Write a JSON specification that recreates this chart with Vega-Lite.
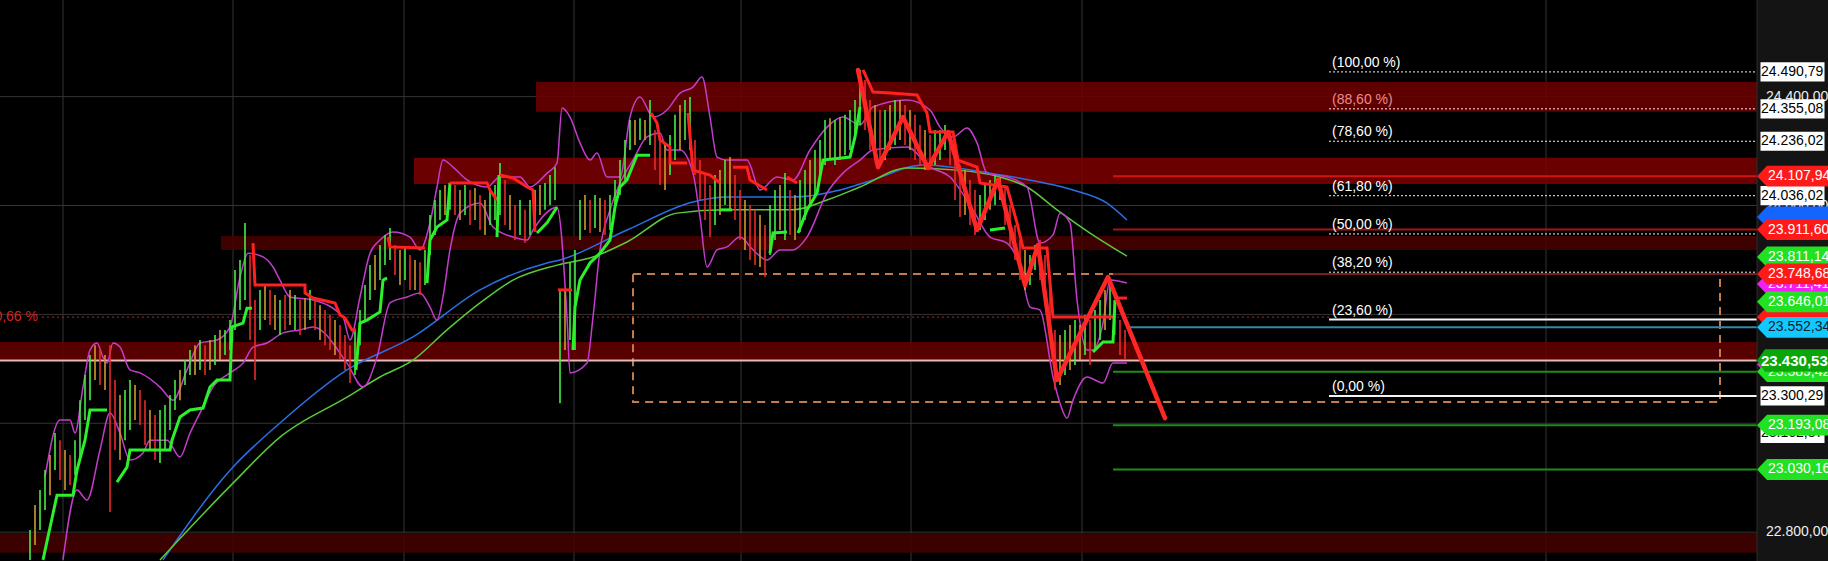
{
"$schema":"https://vega.github.io/schema/vega-lite/v6.json",
"width":1757,"height":561,
"autosize":{"type":"none"},
"padding":{"left":0,"top":0,"right":71,"bottom":0},
"background":"#141414",
"config":{"view":{"fill":"#000000","stroke":null},"font":"Liberation Sans","locale":{"number":{"decimal":",","thousands":".","grouping":[3],"currency":["","€"]}}},
"resolve":{"scale":{"color":"independent"}},
"datasets":{
"gridH":[{"p":22800},{"p":23200},{"p":23600},{"p":24000},{"p":24400}],
"gridV":[{"t":12.6},{"t":46.6},{"t":80.8},{"t":114.8},{"t":148.2},{"t":182.2},{"t":216.4},{"t":309.2}],
"bands":[{"t0":107.2,"t1":351.4,"p0":24454,"p1":24344,"k":"b1"},{"t0":82.8,"t1":351.4,"p0":24175,"p1":24079,"k":"b2"},{"t0":44.2,"t1":351.4,"p0":23888,"p1":23837,"k":"b3"},{"t0":0,"t1":351.4,"p0":23499,"p1":23433,"k":"b4"},{"t0":0,"t1":351.4,"p0":22797,"p1":22724,"k":"b5"}],
"box":[{"t0":126.6,"t1":344,"p0":23748.68,"p1":23278}],
"hl":[{"p":24107.94,"t0":222.6,"t1":351.4,"k":"red"},{"p":23911.6,"t0":222.6,"t1":351.4,"k":"red2"},{"p":23748.68,"t0":222.6,"t1":351.4,"k":"dred"},{"p":23552.34,"t0":225.6,"t1":351.4,"k":"cyan"},{"p":23430.53,"t0":0,"t1":351.4,"k":"pink"},{"p":23389.42,"t0":222.6,"t1":351.4,"k":"green"},{"p":23193.08,"t0":222.6,"t1":351.4,"k":"green"},{"p":23030.16,"t0":222.6,"t1":351.4,"k":"green"},{"p":23581.21,"t0":265.8,"t1":351.4,"k":"white"},{"p":23300.29,"t0":265.8,"t1":351.4,"k":"white"}],
"fibd":[{"p":24490.79},{"p":24355.08},{"p":24236.02},{"p":24036.02},{"p":23895.54},{"p":23755.0}],
"fibl":[{"p":24490.79,"lab":"(100,00 %)","k":"w"},{"p":24355.08,"lab":"(88,60 %)","k":"p"},{"p":24236.02,"lab":"(78,60 %)","k":"w"},{"p":24036.02,"lab":"(61,80 %)","k":"w"},{"p":23895.54,"lab":"(50,00 %)","k":"w"},{"p":23755.0,"lab":"(38,20 %)","k":"w"},{"p":23581.21,"lab":"(23,60 %)","k":"w"},{"p":23300.29,"lab":"(0,00 %)","k":"w"}],
"rdot":[{"p":23590,"t0":8.4,"t1":265.8}],
"ma":[{"m":"b","t":32.6,"p":22698},{"m":"b","t":46.6,"p":23039},{"m":"b","t":56,"p":23201},{"m":"b","t":69.4,"p":23396},{"m":"b","t":82.6,"p":23517},{"m":"b","t":96,"p":23690},{"m":"b","t":109.4,"p":23789},{"m":"b","t":112,"p":23800},{"m":"b","t":125.4,"p":23910},{"m":"b","t":138.6,"p":24013},{"m":"b","t":145.4,"p":24031},{"m":"b","t":158.6,"p":24031},{"m":"b","t":168,"p":24057},{"m":"b","t":174.6,"p":24094},{"m":"b","t":184.6,"p":24149},{"m":"b","t":198,"p":24119},{"m":"b","t":208,"p":24086},{"m":"b","t":214.6,"p":24057},{"m":"b","t":221.4,"p":24009},{"m":"b","t":225.4,"p":23947},
{"m":"g","t":32,"p":22698},{"m":"g","t":46.6,"p":22980},{"m":"g","t":56,"p":23149},{"m":"g","t":69.4,"p":23296},{"m":"g","t":76,"p":23370},{"m":"g","t":82.6,"p":23432},{"m":"g","t":89.4,"p":23543},{"m":"g","t":96,"p":23642},{"m":"g","t":102.6,"p":23726},{"m":"g","t":111.4,"p":23781},{"m":"g","t":118.6,"p":23811},{"m":"g","t":125.4,"p":23866},{"m":"g","t":135.4,"p":23972},{"m":"g","t":145.4,"p":23984},{"m":"g","t":158.6,"p":23984},{"m":"g","t":165.4,"p":24020},{"m":"g","t":172,"p":24068},{"m":"g","t":181.4,"p":24138},{"m":"g","t":191.4,"p":24130},{"m":"g","t":200,"p":24105},{"m":"g","t":205.4,"p":24068},{"m":"g","t":211.4,"p":23984},{"m":"g","t":218,"p":23899},{"m":"g","t":225.4,"p":23814}],
"bb":[{"b":"u","t":9,"p":23003},{"b":"u","t":12,"p":23212},{"b":"u","t":14,"p":23212},{"b":"u","t":15,"p":23164},{"b":"u","t":16.6,"p":23333},{"b":"u","t":18,"p":23469},{"b":"u","t":19.4,"p":23495},{"b":"u","t":20.6,"p":23443},{"b":"u","t":21.4,"p":23421},{"b":"u","t":22.6,"p":23495},{"b":"u","t":24,"p":23480},{"b":"u","t":26,"p":23396},{"b":"u","t":28,"p":23385},{"b":"u","t":32,"p":23333},{"b":"u","t":34.6,"p":23285},{"b":"u","t":37.4,"p":23396},{"b":"u","t":40,"p":23495},{"b":"u","t":43.4,"p":23506},{"b":"u","t":46,"p":23554},{"b":"u","t":48,"p":23737},{"b":"u","t":49.6,"p":23825},{"b":"u","t":52.6,"p":23811},{"b":"u","t":54.6,"p":23774},{"b":"u","t":56,"p":23726},{"b":"u","t":58,"p":23664},{"b":"u","t":62.6,"p":23653},{"b":"u","t":68.6,"p":23590},{"b":"u","t":70,"p":23506},{"b":"u","t":72,"p":23664},{"b":"u","t":74,"p":23825},{"b":"u","t":76,"p":23873},{"b":"u","t":78.6,"p":23903},{"b":"u","t":82,"p":23884},{"b":"u","t":84,"p":23837},{"b":"u","t":86,"p":23936},{"b":"u","t":87.4,"p":24068},{"b":"u","t":88.6,"p":24167},{"b":"u","t":90.6,"p":24141},{"b":"u","t":93.4,"p":24094},{"b":"u","t":97.4,"p":24068},{"b":"u","t":100,"p":24105},{"b":"u","t":104,"p":24105},{"b":"u","t":106,"p":24068},{"b":"u","t":109.4,"p":24119},{"b":"u","t":111.4,"p":24156},{"b":"u","t":112.4,"p":24358},{"b":"u","t":114,"p":24325},{"b":"u","t":116,"p":24230},{"b":"u","t":118,"p":24167},{"b":"u","t":119.4,"p":24193},{"b":"u","t":121.4,"p":24105},{"b":"u","t":124,"p":24105},{"b":"u","t":126,"p":24325},{"b":"u","t":128,"p":24399},{"b":"u","t":130.6,"p":24325},{"b":"u","t":133.4,"p":24351},{"b":"u","t":136,"p":24413},{"b":"u","t":138.6,"p":24435},{"b":"u","t":140.4,"p":24472},{"b":"u","t":142,"p":24325},{"b":"u","t":143.4,"p":24178},{"b":"u","t":145.4,"p":24167},{"b":"u","t":149.4,"p":24167},{"b":"u","t":152,"p":24057},{"b":"u","t":155.4,"p":24105},{"b":"u","t":158.6,"p":24094},{"b":"u","t":162,"p":24204},{"b":"u","t":165.4,"p":24288},{"b":"u","t":168.6,"p":24325},{"b":"u","t":172,"p":24296},{"b":"u","t":174.6,"p":24362},{"b":"u","t":181.4,"p":24388},{"b":"u","t":186,"p":24351},{"b":"u","t":188,"p":24288},{"b":"u","t":190.6,"p":24252},{"b":"u","t":193.4,"p":24285},{"b":"u","t":195.4,"p":24230},{"b":"u","t":197.4,"p":24119},{"b":"u","t":201.4,"p":24105},{"b":"u","t":205.4,"p":24068},{"b":"u","t":208,"p":23862},{"b":"u","t":210.6,"p":23892},{"b":"u","t":212,"p":23972},{"b":"u","t":214,"p":23936},{"b":"u","t":215.4,"p":23653},{"b":"u","t":217.4,"p":23469},{"b":"u","t":218.6,"p":23469},{"b":"u","t":220.6,"p":23568},{"b":"u","t":222,"p":23726},{"b":"u","t":225.4,"p":23715},
{"b":"l","t":12.6,"p":22698},{"b":"l","t":15.4,"p":22955},{"b":"l","t":17.4,"p":22918},{"b":"l","t":20,"p":23102},{"b":"l","t":22,"p":23238},{"b":"l","t":24,"p":23164},{"b":"l","t":26,"p":23065},{"b":"l","t":28.6,"p":23091},{"b":"l","t":30,"p":23138},{"b":"l","t":33.4,"p":23138},{"b":"l","t":36,"p":23076},{"b":"l","t":38,"p":23164},{"b":"l","t":40,"p":23238},{"b":"l","t":42.6,"p":23333},{"b":"l","t":46,"p":23385},{"b":"l","t":48.6,"p":23421},{"b":"l","t":50.6,"p":23480},{"b":"l","t":53.4,"p":23495},{"b":"l","t":56.6,"p":23532},{"b":"l","t":60,"p":23543},{"b":"l","t":62.6,"p":23554},{"b":"l","t":69.4,"p":23421},{"b":"l","t":72.6,"p":23333},{"b":"l","t":75.4,"p":23443},{"b":"l","t":78,"p":23642},{"b":"l","t":81.4,"p":23664},{"b":"l","t":84,"p":23679},{"b":"l","t":86,"p":23627},{"b":"l","t":87.4,"p":23579},{"b":"l","t":88.6,"p":23664},{"b":"l","t":90,"p":23837},{"b":"l","t":92,"p":23972},{"b":"l","t":96,"p":24009},{"b":"l","t":98.6,"p":23921},{"b":"l","t":102.6,"p":23884},{"b":"l","t":105.4,"p":23873},{"b":"l","t":106.6,"p":23910},{"b":"l","t":111.4,"p":23994},{"b":"l","t":113.4,"p":23590},{"b":"l","t":114,"p":23385},{"b":"l","t":117.4,"p":23421},{"b":"l","t":118.6,"p":23590},{"b":"l","t":120,"p":23837},{"b":"l","t":122,"p":23984},{"b":"l","t":124,"p":24083},{"b":"l","t":126.6,"p":24167},{"b":"l","t":129.4,"p":24252},{"b":"l","t":132,"p":24266},{"b":"l","t":133.4,"p":24204},{"b":"l","t":136,"p":24204},{"b":"l","t":138.6,"p":24119},{"b":"l","t":140,"p":23958},{"b":"l","t":141.4,"p":23774},{"b":"l","t":143.4,"p":23837},{"b":"l","t":145.4,"p":23848},{"b":"l","t":148,"p":23884},{"b":"l","t":150.6,"p":23837},{"b":"l","t":153.4,"p":23800},{"b":"l","t":156,"p":23837},{"b":"l","t":158.6,"p":23837},{"b":"l","t":161.4,"p":23884},{"b":"l","t":165.4,"p":24046},{"b":"l","t":168.6,"p":24119},{"b":"l","t":172,"p":24167},{"b":"l","t":174.6,"p":24204},{"b":"l","t":181.4,"p":24215},{"b":"l","t":186,"p":24141},{"b":"l","t":190,"p":24105},{"b":"l","t":194.6,"p":23984},{"b":"l","t":198,"p":23884},{"b":"l","t":201.4,"p":23862},{"b":"l","t":204,"p":23774},{"b":"l","t":206,"p":23627},{"b":"l","t":208,"p":23616},{"b":"l","t":210.6,"p":23370},{"b":"l","t":212,"p":23274},{"b":"l","t":213.4,"p":23219},{"b":"l","t":214.6,"p":23285},{"b":"l","t":217.4,"p":23370},{"b":"l","t":220.6,"p":23348},{"b":"l","t":222.6,"p":23421},{"b":"l","t":225.4,"p":23421}],
"cd":[{"t":6,"l":22698,"h":22808,"c":"g"},{"t":7,"l":22753,"h":22900,"c":"o"},{"t":8,"l":22808,"h":22955,"c":"g"},{"t":9,"l":22881,"h":23028,"c":"g"},{"t":10,"l":22936,"h":23083,"c":"o"},{"t":11,"l":23028,"h":23164,"c":"g"},{"t":12,"l":22992,"h":23138,"c":"r"},{"t":13,"l":22955,"h":23102,"c":"o"},{"t":14,"l":22973,"h":23083,"c":"r"},{"t":15,"l":23010,"h":23138,"c":"g"},{"t":16,"l":23065,"h":23285,"c":"g"},{"t":17,"l":23212,"h":23377,"c":"g"},{"t":18,"l":23285,"h":23451,"c":"g"},{"t":19,"l":23359,"h":23487,"c":"o"},{"t":20,"l":23341,"h":23469,"c":"r"},{"t":21,"l":23322,"h":23451,"c":"o"},{"t":22,"l":22874,"h":23487,"c":"r"},{"t":23,"l":23102,"h":23359,"c":"r"},{"t":24,"l":23065,"h":23304,"c":"o"},{"t":25,"l":23138,"h":23322,"c":"g"},{"t":26,"l":23175,"h":23359,"c":"g"},{"t":27,"l":23212,"h":23341,"c":"o"},{"t":28,"l":23194,"h":23322,"c":"r"},{"t":29,"l":23120,"h":23285,"c":"r"},{"t":30,"l":23102,"h":23249,"c":"o"},{"t":31,"l":23065,"h":23230,"c":"r"},{"t":32,"l":23054,"h":23249,"c":"g"},{"t":33,"l":23102,"h":23267,"c":"g"},{"t":34,"l":23175,"h":23304,"c":"g"},{"t":35,"l":23249,"h":23359,"c":"g"},{"t":36,"l":23285,"h":23396,"c":"o"},{"t":37,"l":23341,"h":23432,"c":"g"},{"t":38,"l":23377,"h":23469,"c":"g"},{"t":39,"l":23377,"h":23487,"c":"o"},{"t":40,"l":23396,"h":23506,"c":"g"},{"t":41,"l":23377,"h":23487,"c":"r"},{"t":42,"l":23396,"h":23506,"c":"o"},{"t":43,"l":23414,"h":23524,"c":"g"},{"t":44,"l":23432,"h":23543,"c":"o"},{"t":45,"l":23451,"h":23543,"c":"g"},{"t":46,"l":23469,"h":23579,"c":"g"},{"t":47,"l":23543,"h":23763,"c":"g"},{"t":48,"l":23616,"h":23800,"c":"g"},{"t":49,"l":23653,"h":23936,"c":"g"},{"t":50,"l":23506,"h":23818,"c":"r"},{"t":51,"l":23359,"h":23653,"c":"r"},{"t":52,"l":23543,"h":23690,"c":"g"},{"t":53,"l":23579,"h":23708,"c":"o"},{"t":54,"l":23561,"h":23690,"c":"r"},{"t":55,"l":23543,"h":23671,"c":"o"},{"t":56,"l":23524,"h":23653,"c":"g"},{"t":57,"l":23543,"h":23671,"c":"r"},{"t":58,"l":23561,"h":23690,"c":"o"},{"t":59,"l":23543,"h":23671,"c":"g"},{"t":60,"l":23524,"h":23653,"c":"r"},{"t":61,"l":23543,"h":23660,"c":"o"},{"t":62,"l":23579,"h":23690,"c":"g"},{"t":63,"l":23543,"h":23653,"c":"r"},{"t":64,"l":23506,"h":23634,"c":"o"},{"t":65,"l":23487,"h":23616,"c":"r"},{"t":66,"l":23469,"h":23598,"c":"r"},{"t":67,"l":23451,"h":23579,"c":"o"},{"t":68,"l":23432,"h":23561,"c":"r"},{"t":69,"l":23396,"h":23524,"c":"r"},{"t":70,"l":23348,"h":23487,"c":"r"},{"t":71,"l":23377,"h":23543,"c":"g"},{"t":72,"l":23487,"h":23616,"c":"g"},{"t":73,"l":23579,"h":23708,"c":"g"},{"t":74,"l":23653,"h":23781,"c":"g"},{"t":75,"l":23690,"h":23818,"c":"o"},{"t":76,"l":23726,"h":23855,"c":"g"},{"t":77,"l":23781,"h":23892,"c":"g"},{"t":78,"l":23800,"h":23917,"c":"g"},{"t":79,"l":23745,"h":23855,"c":"r"},{"t":80,"l":23708,"h":23837,"c":"o"},{"t":81,"l":23726,"h":23844,"c":"g"},{"t":82,"l":23690,"h":23818,"c":"r"},{"t":83,"l":23690,"h":23800,"c":"o"},{"t":84,"l":23671,"h":23792,"c":"r"},{"t":85,"l":23708,"h":23837,"c":"g"},{"t":86,"l":23818,"h":23965,"c":"g"},{"t":87,"l":23892,"h":24020,"c":"g"},{"t":88,"l":23947,"h":24057,"c":"g"},{"t":89,"l":23965,"h":24075,"c":"o"},{"t":90,"l":23984,"h":24083,"c":"g"},{"t":91,"l":23965,"h":24075,"c":"r"},{"t":92,"l":23947,"h":24057,"c":"o"},{"t":93,"l":23965,"h":24075,"c":"g"},{"t":94,"l":23928,"h":24057,"c":"r"},{"t":95,"l":23947,"h":24064,"c":"o"},{"t":96,"l":23910,"h":24039,"c":"r"},{"t":97,"l":23892,"h":24020,"c":"o"},{"t":98,"l":23928,"h":24057,"c":"g"},{"t":99,"l":23947,"h":24075,"c":"g"},{"t":100,"l":23965,"h":24156,"c":"g"},{"t":101,"l":23928,"h":24094,"c":"r"},{"t":102,"l":23910,"h":24039,"c":"o"},{"t":103,"l":23873,"h":24002,"c":"r"},{"t":104,"l":23892,"h":24020,"c":"g"},{"t":105,"l":23862,"h":23984,"c":"r"},{"t":106,"l":23892,"h":24020,"c":"g"},{"t":107,"l":23928,"h":24057,"c":"g"},{"t":108,"l":23965,"h":24075,"c":"o"},{"t":109,"l":23984,"h":24083,"c":"g"},{"t":110,"l":24002,"h":24112,"c":"g"},{"t":111,"l":24020,"h":24141,"c":"g"},{"t":112,"l":23274,"h":23690,"c":"g"},{"t":113,"l":23469,"h":23690,"c":"o"},{"t":114,"l":23506,"h":23789,"c":"g"},{"t":115,"l":23469,"h":23837,"c":"g"},{"t":116,"l":23873,"h":24020,"c":"g"},{"t":117,"l":23910,"h":24039,"c":"o"},{"t":118,"l":23899,"h":24020,"c":"r"},{"t":119,"l":23917,"h":24039,"c":"g"},{"t":120,"l":23903,"h":24028,"c":"o"},{"t":121,"l":23892,"h":24020,"c":"r"},{"t":122,"l":23910,"h":24039,"c":"g"},{"t":123,"l":23984,"h":24094,"c":"g"},{"t":124,"l":24039,"h":24167,"c":"g"},{"t":125,"l":24094,"h":24241,"c":"g"},{"t":126,"l":24204,"h":24314,"c":"g"},{"t":127,"l":24222,"h":24314,"c":"o"},{"t":128,"l":24241,"h":24321,"c":"g"},{"t":129,"l":24241,"h":24314,"c":"o"},{"t":130,"l":24222,"h":24388,"c":"g"},{"t":131,"l":24130,"h":24277,"c":"r"},{"t":132,"l":24075,"h":24241,"c":"r"},{"t":133,"l":24057,"h":24222,"c":"o"},{"t":134,"l":24112,"h":24259,"c":"g"},{"t":135,"l":24167,"h":24333,"c":"g"},{"t":136,"l":24204,"h":24369,"c":"o"},{"t":137,"l":24241,"h":24388,"c":"g"},{"t":138,"l":24204,"h":24399,"c":"g"},{"t":139,"l":24112,"h":24241,"c":"r"},{"t":140,"l":24020,"h":24167,"c":"r"},{"t":141,"l":23947,"h":24112,"c":"r"},{"t":142,"l":23884,"h":24075,"c":"r"},{"t":143,"l":23928,"h":24112,"c":"g"},{"t":144,"l":23965,"h":24130,"c":"o"},{"t":145,"l":24002,"h":24167,"c":"g"},{"t":146,"l":23984,"h":24178,"c":"o"},{"t":147,"l":23947,"h":24112,"c":"r"},{"t":148,"l":23873,"h":24057,"c":"r"},{"t":149,"l":23837,"h":24020,"c":"o"},{"t":150,"l":23800,"h":24002,"c":"r"},{"t":151,"l":23781,"h":23984,"c":"r"},{"t":152,"l":23774,"h":23965,"c":"o"},{"t":153,"l":23737,"h":23928,"c":"r"},{"t":154,"l":23818,"h":24002,"c":"g"},{"t":155,"l":23873,"h":24057,"c":"g"},{"t":156,"l":23910,"h":24075,"c":"o"},{"t":157,"l":23873,"h":24119,"c":"g"},{"t":158,"l":23892,"h":24057,"c":"r"},{"t":159,"l":23873,"h":24039,"c":"o"},{"t":160,"l":23903,"h":24094,"c":"g"},{"t":161,"l":23947,"h":24130,"c":"g"},{"t":162,"l":24002,"h":24167,"c":"o"},{"t":163,"l":24039,"h":24204,"c":"g"},{"t":164,"l":24094,"h":24241,"c":"g"},{"t":165,"l":24149,"h":24314,"c":"g"},{"t":166,"l":24167,"h":24321,"c":"o"},{"t":167,"l":24149,"h":24314,"c":"g"},{"t":168,"l":24167,"h":24325,"c":"o"},{"t":169,"l":24186,"h":24333,"c":"g"},{"t":170,"l":24204,"h":24351,"c":"g"},{"t":171,"l":24241,"h":24388,"c":"g"},{"t":172,"l":24296,"h":24498,"c":"g"},{"t":173,"l":24277,"h":24461,"c":"r"},{"t":174,"l":24204,"h":24388,"c":"r"},{"t":175,"l":24167,"h":24369,"c":"o"},{"t":176,"l":24149,"h":24351,"c":"r"},{"t":177,"l":24167,"h":24351,"c":"g"},{"t":178,"l":24204,"h":24369,"c":"o"},{"t":179,"l":24222,"h":24388,"c":"g"},{"t":180,"l":24241,"h":24388,"c":"o"},{"t":181,"l":24222,"h":24369,"c":"r"},{"t":182,"l":24204,"h":24351,"c":"o"},{"t":183,"l":24167,"h":24333,"c":"r"},{"t":184,"l":24149,"h":24296,"c":"r"},{"t":185,"l":24130,"h":24277,"c":"o"},{"t":186,"l":24130,"h":24259,"c":"r"},{"t":187,"l":24149,"h":24277,"c":"g"},{"t":188,"l":24167,"h":24277,"c":"g"},{"t":189,"l":24204,"h":24296,"c":"g"},{"t":190,"l":24149,"h":24259,"c":"r"},{"t":191,"l":24020,"h":24204,"c":"r"},{"t":192,"l":23958,"h":24149,"c":"r"},{"t":193,"l":23965,"h":24130,"c":"o"},{"t":194,"l":23928,"h":24094,"c":"r"},{"t":195,"l":23892,"h":24057,"c":"r"},{"t":196,"l":23910,"h":24039,"c":"g"},{"t":197,"l":23947,"h":24075,"c":"g"},{"t":198,"l":23984,"h":24094,"c":"o"},{"t":199,"l":24002,"h":24112,"c":"g"},{"t":200,"l":24020,"h":24101,"c":"o"},{"t":201,"l":23928,"h":24075,"c":"r"},{"t":202,"l":23855,"h":24002,"c":"r"},{"t":203,"l":23800,"h":23928,"c":"r"},{"t":204,"l":23726,"h":23873,"c":"r"},{"t":205,"l":23690,"h":23837,"c":"o"},{"t":206,"l":23708,"h":23818,"c":"g"},{"t":207,"l":23763,"h":23855,"c":"g"},{"t":208,"l":23726,"h":23873,"c":"r"},{"t":209,"l":23653,"h":23818,"c":"r"},{"t":210,"l":23506,"h":23726,"c":"r"},{"t":211,"l":23322,"h":23543,"c":"r"},{"t":212,"l":23341,"h":23524,"c":"o"},{"t":213,"l":23377,"h":23543,"c":"g"},{"t":214,"l":23396,"h":23561,"c":"o"},{"t":215,"l":23414,"h":23579,"c":"g"},{"t":216,"l":23432,"h":23561,"c":"o"},{"t":217,"l":23451,"h":23598,"c":"g"},{"t":218,"l":23414,"h":23579,"c":"r"},{"t":219,"l":23469,"h":23616,"c":"g"},{"t":220,"l":23506,"h":23653,"c":"g"},{"t":221,"l":23543,"h":23690,"c":"o"},{"t":222,"l":23579,"h":23708,"c":"g"},{"t":223,"l":23524,"h":23653,"c":"r"},{"t":224,"l":23451,"h":23579,"c":"r"},{"t":225,"l":23432,"h":23543,"c":"r"}],
"st":[{"s":"A","c":"g","t":8.6,"p":22698},{"s":"A","c":"g","t":11.4,"p":22936},{"s":"A","c":"g","t":14.6,"p":22936},{"s":"A","c":"g","t":15.4,"p":23028},{"s":"A","c":"g","t":17,"p":23138},{"s":"A","c":"g","t":18,"p":23249},{"s":"A","c":"g","t":21.4,"p":23249},
{"s":"C","c":"g","t":23.4,"p":22984},{"s":"C","c":"g","t":25.4,"p":23039},{"s":"C","c":"g","t":26,"p":23102},{"s":"C","c":"g","t":34,"p":23102},{"s":"C","c":"g","t":34.4,"p":23138},{"s":"C","c":"g","t":36,"p":23223},{"s":"C","c":"g","t":38,"p":23249},{"s":"C","c":"g","t":40.6,"p":23256},{"s":"C","c":"g","t":42,"p":23333},{"s":"C","c":"g","t":43.4,"p":23359},{"s":"C","c":"g","t":46,"p":23359},{"s":"C","c":"g","t":46.4,"p":23554},{"s":"C","c":"g","t":48.6,"p":23568},{"s":"C","c":"g","t":49.4,"p":23623},{"s":"C","c":"g","t":50.4,"p":23623},
{"s":"D","c":"r","t":50.6,"p":23862},{"s":"D","c":"r","t":51,"p":23708},{"s":"D","c":"r","t":61,"p":23708},{"s":"D","c":"r","t":61.01,"p":23679},{"s":"D","c":"r","t":62.6,"p":23660},{"s":"D","c":"r","t":67,"p":23642},{"s":"D","c":"r","t":68,"p":23598},{"s":"D","c":"r","t":69,"p":23587},{"s":"D","c":"r","t":70.4,"p":23543},{"s":"D","c":"r","t":71.2,"p":23543},
{"s":"E","c":"g","t":71.2,"p":23396},{"s":"E","c":"g","t":72,"p":23568},{"s":"E","c":"g","t":73.4,"p":23579},{"s":"E","c":"g","t":76,"p":23609},{"s":"E","c":"g","t":76.6,"p":23726},{"s":"E","c":"g","t":77.4,"p":23734},
{"s":"F","c":"r","t":77.6,"p":23884},{"s":"F","c":"r","t":78,"p":23848},{"s":"F","c":"r","t":85,"p":23844},
{"s":"G","c":"g","t":85.4,"p":23715},{"s":"G","c":"g","t":86,"p":23873},{"s":"G","c":"g","t":87.4,"p":23921},{"s":"G","c":"g","t":89.4,"p":23947},{"s":"G","c":"g","t":90,"p":24083},
{"s":"H","c":"r","t":90,"p":24083},{"s":"H","c":"r","t":97.4,"p":24083},{"s":"H","c":"r","t":98,"p":24057},{"s":"H","c":"r","t":99.4,"p":24020},
{"s":"I","c":"g","t":99.4,"p":23884},{"s":"I","c":"g","t":99.8,"p":24112},
{"s":"J","c":"r","t":100,"p":24112},{"s":"J","c":"r","t":102.6,"p":24101},{"s":"J","c":"r","t":105.4,"p":24068},{"s":"J","c":"r","t":106.6,"p":24057},{"s":"J","c":"r","t":107,"p":23903},
{"s":"K","c":"g","t":107.4,"p":23899},{"s":"K","c":"g","t":109.4,"p":23936},{"s":"K","c":"g","t":111.4,"p":23994},
{"s":"L","c":"r","t":111.6,"p":23690},{"s":"L","c":"r","t":114.4,"p":23690},
{"s":"M","c":"g","t":114.6,"p":23469},{"s":"M","c":"g","t":115,"p":23627},{"s":"M","c":"g","t":116,"p":23726},{"s":"M","c":"g","t":118,"p":23789},{"s":"M","c":"g","t":120,"p":23825},{"s":"M","c":"g","t":122,"p":23873},{"s":"M","c":"g","t":123,"p":23994},{"s":"M","c":"g","t":124,"p":24068},{"s":"M","c":"g","t":125.4,"p":24094},{"s":"M","c":"g","t":127.4,"p":24185},{"s":"M","c":"g","t":130,"p":24185},
{"s":"N","c":"r","t":130.2,"p":24340},{"s":"N","c":"r","t":131.4,"p":24303},{"s":"N","c":"r","t":132,"p":24241},{"s":"N","c":"r","t":134,"p":24215},{"s":"N","c":"r","t":134.01,"p":24156},{"s":"N","c":"r","t":137.4,"p":24156},
{"s":"P","c":"r","t":137.6,"p":24340},{"s":"P","c":"r","t":138.6,"p":24130},{"s":"P","c":"r","t":142,"p":24112},{"s":"P","c":"r","t":144,"p":24083},
{"s":"Q","c":"g","t":144,"p":23984},{"s":"Q","c":"g","t":146.4,"p":23984},
{"s":"R","c":"r","t":146.6,"p":24141},{"s":"R","c":"r","t":149.4,"p":24141},{"s":"R","c":"r","t":150,"p":24094},{"s":"R","c":"r","t":153.4,"p":24057},
{"s":"S","c":"g","t":154,"p":23825},{"s":"S","c":"g","t":154.6,"p":23899},{"s":"S","c":"g","t":157.4,"p":23903},
{"s":"T","c":"r","t":157.4,"p":24105},{"s":"T","c":"r","t":159.4,"p":24083},
{"s":"U","c":"g","t":159.6,"p":23899},{"s":"U","c":"g","t":161.4,"p":23984},{"s":"U","c":"g","t":163.4,"p":24046},{"s":"U","c":"g","t":164.6,"p":24167},{"s":"U","c":"g","t":170,"p":24178},{"s":"U","c":"g","t":171,"p":24252},{"s":"U","c":"g","t":172,"p":24362},
{"s":"V","c":"r","t":172.6,"p":24498},{"s":"V","c":"r","t":174.6,"p":24417},{"s":"V","c":"r","t":178,"p":24413},{"s":"V","c":"r","t":183.4,"p":24406},{"s":"V","c":"r","t":185.4,"p":24340},{"s":"V","c":"r","t":186,"p":24270},{"s":"V","c":"r","t":190.6,"p":24270},{"s":"V","c":"r","t":191.6,"p":24167},{"s":"V","c":"r","t":195.4,"p":24141},{"s":"V","c":"r","t":196,"p":24083},{"s":"V","c":"r","t":201.4,"p":24068},{"s":"V","c":"r","t":203.4,"p":23936},{"s":"V","c":"r","t":204.6,"p":23844},{"s":"V","c":"r","t":209.4,"p":23844},{"s":"V","c":"r","t":210.6,"p":23590},{"s":"V","c":"r","t":222.6,"p":23590},
{"s":"W","c":"g","t":198,"p":23910},{"s":"W","c":"g","t":201,"p":23917},
{"s":"X","c":"g","t":218.6,"p":23462},{"s":"X","c":"g","t":220.6,"p":23499},{"s":"X","c":"g","t":222.6,"p":23499},{"s":"X","c":"g","t":223,"p":23653},
{"s":"Y","c":"r","t":223,"p":23660},{"s":"Y","c":"r","t":225.4,"p":23660}],
"zig":[{"t":171.6,"p":24498},{"t":175.6,"p":24141},{"t":180.6,"p":24325},{"t":185.6,"p":24138},{"t":189.6,"p":24270},{"t":195.4,"p":23910},{"t":199.6,"p":24094},{"t":205,"p":23708},{"t":207.6,"p":23855},{"t":211.4,"p":23359},{"t":221.6,"p":23737},{"t":233,"p":23219}],
"axl":[{"p":22800},{"p":23200},{"p":23600},{"p":24000},{"p":24400}],
"tagHidden":[{"p":23958,"k":"blue"},{"p":23590,"k":"red"},{"p":23416,"k":"mag"}],
"tagBackC":[{"p":23711.41,"k":"mag"},{"p":23389.42,"k":"green"}],
"tagBackW":[{"p":23162.87}],
"tagFrontW":[{"p":24490.79},{"p":24355.08},{"p":24236.02},{"p":24036.02},{"p":23300.29}],
"tagFrontC":[{"p":24107.94,"k":"red"},{"p":23911.6,"k":"red"},{"p":23811.14,"k":"green"},{"p":23748.68,"k":"red"},{"p":23646.01,"k":"green"},{"p":23552.34,"k":"cyan"},{"p":23193.08,"k":"green"},{"p":23030.16,"k":"green"}],
"tagBold":[{"p":23430.53}]
},
"layer":[
{"data":{"name":"gridH"},"mark":{"type":"rule","color":"#343434","strokeWidth":1},
 "encoding":{"x":{"datum":0,"type":"quantitative","scale":{"domain":[0,351.4],"nice":false,"zero":false},"axis":null},"x2":{"datum":351.4},"y":{"field":"p","type":"quantitative","scale":{"domain":[22694,24755],"nice":false,"zero":false},"axis":null}}},
{"data":{"name":"gridV"},"mark":{"type":"rule","color":"#343434","strokeWidth":1},
 "encoding":{"x":{"field":"t","type":"quantitative","scale":{"domain":[0,351.4],"nice":false,"zero":false},"axis":null},"y":{"datum":22694,"type":"quantitative","scale":{"domain":[22694,24755],"nice":false,"zero":false},"axis":null},"y2":{"datum":24755}}},
{"data":{"name":"bands"},"mark":{"type":"rect","opacity":0.88},
 "encoding":{
  "x":{"field":"t0","type":"quantitative","scale":{"domain":[0,351.4],"nice":false,"zero":false},"axis":null},
  "x2":{"field":"t1"},
  "y":{"field":"p0","type":"quantitative","scale":{"domain":[22694,24755],"nice":false,"zero":false},"axis":null},
  "y2":{"field":"p1"},
  "color":{"field":"k","type":"nominal","legend":null,"scale":{"domain":["b1","b2","b3","b4","b5"],"range":["#6b0000","#7a0000","#480000","#640000","#430000"]}}}},
{"data":{"name":"box"},"mark":{"type":"rect","fillOpacity":0,"stroke":"#c27c4c","strokeWidth":2,"strokeDash":[8,6]},
 "encoding":{"x":{"field":"t0","type":"quantitative","scale":{"domain":[0,351.4],"nice":false,"zero":false},"axis":null},"x2":{"field":"t1"},"y":{"field":"p0","type":"quantitative","scale":{"domain":[22694,24755],"nice":false,"zero":false},"axis":null},"y2":{"field":"p1"}}},
{"data":{"name":"rdot"},"mark":{"type":"rule","color":"#b82222","strokeWidth":1,"strokeDash":[2,3]},
 "encoding":{"x":{"field":"t0","type":"quantitative","scale":{"domain":[0,351.4],"nice":false,"zero":false},"axis":null},"x2":{"field":"t1"},"y":{"field":"p","type":"quantitative","scale":{"domain":[22694,24755],"nice":false,"zero":false},"axis":null}}},
{"data":{"name":"fibd"},"mark":{"type":"rule","color":"#f4f4f4","strokeWidth":1,"strokeDash":[2,2]},
 "encoding":{"x":{"datum":265.8,"type":"quantitative","scale":{"domain":[0,351.4],"nice":false,"zero":false},"axis":null},"x2":{"datum":351.4},"y":{"field":"p","type":"quantitative","scale":{"domain":[22694,24755],"nice":false,"zero":false},"axis":null}}},
{"data":{"name":"hl"},"mark":{"type":"rule","strokeWidth":2},
 "encoding":{"x":{"field":"t0","type":"quantitative","scale":{"domain":[0,351.4],"nice":false,"zero":false},"axis":null},"x2":{"field":"t1"},"y":{"field":"p","type":"quantitative","scale":{"domain":[22694,24755],"nice":false,"zero":false},"axis":null},
  "color":{"field":"k","type":"nominal","legend":null,"scale":{"domain":["red","red2","dred","cyan","pink","green","white"],"range":["#d01414","#a81414","#7c1c1c","#3886a6","#e6b8b8","#1d8d1d","#f4f4f4"]}}}},
{"data":{"name":"ma"},"mark":{"type":"line","strokeWidth":1.5,"interpolate":"monotone"},
 "encoding":{"x":{"field":"t","type":"quantitative","scale":{"domain":[0,351.4],"nice":false,"zero":false},"axis":null},"y":{"field":"p","type":"quantitative","scale":{"domain":[22694,24755],"nice":false,"zero":false},"axis":null},
  "color":{"field":"m","type":"nominal","legend":null,"scale":{"domain":["b","g"],"range":["#2b6fe6","#5cc83a"]}}}},
{"data":{"name":"bb"},"mark":{"type":"line","strokeWidth":1.5,"interpolate":"monotone","color":"#c43ccc"},
 "encoding":{"x":{"field":"t","type":"quantitative","scale":{"domain":[0,351.4],"nice":false,"zero":false},"axis":null},"y":{"field":"p","type":"quantitative","scale":{"domain":[22694,24755],"nice":false,"zero":false},"axis":null},"detail":{"field":"b"}}},
{"data":{"name":"cd"},"mark":{"type":"rule","strokeWidth":1.6},
 "encoding":{"x":{"field":"t","type":"quantitative","scale":{"domain":[0,351.4],"nice":false,"zero":false},"axis":null},"y":{"field":"l","type":"quantitative","scale":{"domain":[22694,24755],"nice":false,"zero":false},"axis":null},"y2":{"field":"h"},
  "color":{"field":"c","type":"nominal","legend":null,"scale":{"domain":["g","r","o"],"range":["#46ec46","#ec2a2a","#cf9a2c"]}}}},
{"data":{"name":"st"},"mark":{"type":"line","strokeWidth":3},
 "encoding":{"x":{"field":"t","type":"quantitative","scale":{"domain":[0,351.4],"nice":false,"zero":false},"axis":null},"y":{"field":"p","type":"quantitative","scale":{"domain":[22694,24755],"nice":false,"zero":false},"axis":null},"detail":{"field":"s"},
  "color":{"field":"c","type":"nominal","legend":null,"scale":{"domain":["g","r"],"range":["#2cf02c","#ff2020"]}}}},
{"data":{"name":"zig"},"mark":{"type":"line","strokeWidth":4.5,"color":"#ff2626","strokeCap":"round","strokeJoin":"round"},
 "encoding":{"x":{"field":"t","type":"quantitative","scale":{"domain":[0,351.4],"nice":false,"zero":false},"axis":null},"y":{"field":"p","type":"quantitative","scale":{"domain":[22694,24755],"nice":false,"zero":false},"axis":null}}},
{"data":{"name":"fibl"},"mark":{"type":"text","align":"left","baseline":"alphabetic","dy":-5,"font":"Liberation Sans","fontSize":14},
 "encoding":{"x":{"datum":266.4,"type":"quantitative","scale":{"domain":[0,351.4],"nice":false,"zero":false},"axis":null},"y":{"field":"p","type":"quantitative","scale":{"domain":[22694,24755],"nice":false,"zero":false},"axis":null},"text":{"field":"lab"},
  "color":{"field":"k","type":"nominal","legend":null,"scale":{"domain":["w","p"],"range":["#ffffff","#f08a8a"]}}}},
{"data":{"values":[{"p":23590,"lab":"-0,66 %"}]},"mark":{"type":"text","align":"right","baseline":"middle","font":"Liberation Sans","fontSize":14,"color":"#d42424"},
 "encoding":{"x":{"datum":7.6,"type":"quantitative","scale":{"domain":[0,351.4],"nice":false,"zero":false},"axis":null},"y":{"field":"p","type":"quantitative","scale":{"domain":[22694,24755],"nice":false,"zero":false},"axis":null},"text":{"field":"lab"}}},
{"data":{"values":[{"t":351.4}]},"mark":{"type":"rule","color":"#2c2c2c","strokeWidth":1},
 "encoding":{"x":{"field":"t","type":"quantitative","scale":{"domain":[0,351.4],"nice":false,"zero":false},"axis":null},"y":{"datum":22694,"type":"quantitative","scale":{"domain":[22694,24755],"nice":false,"zero":false},"axis":null},"y2":{"datum":24755}}},
{"data":{"name":"axl"},"mark":{"type":"text","align":"left","baseline":"middle","font":"Liberation Sans","fontSize":14,"color":"#eeeeee"},
 "encoding":{"x":{"datum":353.2,"type":"quantitative","scale":{"domain":[0,351.4],"nice":false,"zero":false},"axis":null},"y":{"field":"p","type":"quantitative","scale":{"domain":[22694,24755],"nice":false,"zero":false},"axis":null},"text":{"field":"p","type":"quantitative","format":",.2f"}}},
{"data":{"name":"tagHidden"},"mark":{"type":"point","filled":true,"opacity":1,"strokeWidth":0,"size":6400,"shape":"M-1,0L-0.75,-0.26L1,-0.26L1,0.26L-0.75,0.26Z"},
 "encoding":{"x":{"datum":359.4,"type":"quantitative","scale":{"domain":[0,351.4],"nice":false,"zero":false},"axis":null},"y":{"field":"p","type":"quantitative","scale":{"domain":[22694,24755],"nice":false,"zero":false},"axis":null},
  "color":{"field":"k","type":"nominal","legend":null,"scale":{"domain":["blue","mag","red"],"range":["#1464ff","#f020f0","#ff1a1a"]}}}},
{"data":{"name":"tagBackC"},"mark":{"type":"point","filled":true,"opacity":1,"strokeWidth":0,"size":6400,"shape":"M-1,0L-0.75,-0.26L1,-0.26L1,0.26L-0.75,0.26Z"},
 "encoding":{"x":{"datum":359.4,"type":"quantitative","scale":{"domain":[0,351.4],"nice":false,"zero":false},"axis":null},"y":{"field":"p","type":"quantitative","scale":{"domain":[22694,24755],"nice":false,"zero":false},"axis":null},
  "color":{"field":"k","type":"nominal","legend":null,"scale":{"domain":["mag","green"],"range":["#f020f0","#22e022"]}}}},
{"data":{"name":"tagBackW"},"mark":{"type":"point","filled":true,"opacity":1,"strokeWidth":0,"size":6400,"color":"#ffffff","shape":"M-0.8,-0.24L0.8,-0.24L0.8,0.24L-0.8,0.24Z"},
 "encoding":{"x":{"datum":358.5,"type":"quantitative","scale":{"domain":[0,351.4],"nice":false,"zero":false},"axis":null},"y":{"field":"p","type":"quantitative","scale":{"domain":[22694,24755],"nice":false,"zero":false},"axis":null}}},
{"data":{"name":"tagBackC"},"mark":{"type":"text","align":"left","baseline":"middle","font":"Liberation Sans","fontSize":14,"color":"#ffffff"},
 "encoding":{"x":{"datum":353.6,"type":"quantitative","scale":{"domain":[0,351.4],"nice":false,"zero":false},"axis":null},"y":{"field":"p","type":"quantitative","scale":{"domain":[22694,24755],"nice":false,"zero":false},"axis":null},"text":{"field":"p","type":"quantitative","format":",.2f"}}},
{"data":{"name":"tagBackW"},"mark":{"type":"text","align":"left","baseline":"middle","font":"Liberation Sans","fontSize":14,"color":"#000000"},
 "encoding":{"x":{"datum":352.2,"type":"quantitative","scale":{"domain":[0,351.4],"nice":false,"zero":false},"axis":null},"y":{"field":"p","type":"quantitative","scale":{"domain":[22694,24755],"nice":false,"zero":false},"axis":null},"text":{"field":"p","type":"quantitative","format":",.2f"}}},
{"data":{"name":"tagFrontW"},"mark":{"type":"point","filled":true,"opacity":1,"strokeWidth":0,"size":6400,"color":"#ffffff","shape":"M-0.8,-0.24L0.8,-0.24L0.8,0.24L-0.8,0.24Z"},
 "encoding":{"x":{"datum":358.5,"type":"quantitative","scale":{"domain":[0,351.4],"nice":false,"zero":false},"axis":null},"y":{"field":"p","type":"quantitative","scale":{"domain":[22694,24755],"nice":false,"zero":false},"axis":null}}},
{"data":{"name":"tagFrontW"},"mark":{"type":"text","align":"left","baseline":"middle","font":"Liberation Sans","fontSize":14,"color":"#000000"},
 "encoding":{"x":{"datum":352.2,"type":"quantitative","scale":{"domain":[0,351.4],"nice":false,"zero":false},"axis":null},"y":{"field":"p","type":"quantitative","scale":{"domain":[22694,24755],"nice":false,"zero":false},"axis":null},"text":{"field":"p","type":"quantitative","format":",.2f"}}},
{"data":{"name":"tagFrontC"},"mark":{"type":"point","filled":true,"opacity":1,"strokeWidth":0,"size":6400,"shape":"M-1,0L-0.75,-0.26L1,-0.26L1,0.26L-0.75,0.26Z"},
 "encoding":{"x":{"datum":359.4,"type":"quantitative","scale":{"domain":[0,351.4],"nice":false,"zero":false},"axis":null},"y":{"field":"p","type":"quantitative","scale":{"domain":[22694,24755],"nice":false,"zero":false},"axis":null},
  "color":{"field":"k","type":"nominal","legend":null,"scale":{"domain":["red","green","cyan"],"range":["#ff1a1a","#22e022","#12c8ff"]}}}},
{"data":{"name":"tagFrontC"},"mark":{"type":"text","align":"left","baseline":"middle","font":"Liberation Sans","fontSize":14},
 "encoding":{"x":{"datum":353.6,"type":"quantitative","scale":{"domain":[0,351.4],"nice":false,"zero":false},"axis":null},"y":{"field":"p","type":"quantitative","scale":{"domain":[22694,24755],"nice":false,"zero":false},"axis":null},"text":{"field":"p","type":"quantitative","format":",.2f"},
  "color":{"condition":{"test":"datum.k === 'cyan'","value":"#102030"},"value":"#ffffff"}}},
{"data":{"name":"tagBold"},"mark":{"type":"point","filled":true,"opacity":1,"strokeWidth":0,"size":6400,"color":"#0aa60a","shape":"M-1,0L-0.8,-0.28L1,-0.28L1,0.28L-0.8,0.28Z"},
 "encoding":{"x":{"datum":359.4,"type":"quantitative","scale":{"domain":[0,351.4],"nice":false,"zero":false},"axis":null},"y":{"field":"p","type":"quantitative","scale":{"domain":[22694,24755],"nice":false,"zero":false},"axis":null}}},
{"data":{"name":"tagBold"},"mark":{"type":"text","align":"left","baseline":"middle","font":"Liberation Sans","fontSize":15,"fontWeight":"bold","color":"#ffffff"},
 "encoding":{"x":{"datum":352.2,"type":"quantitative","scale":{"domain":[0,351.4],"nice":false,"zero":false},"axis":null},"y":{"field":"p","type":"quantitative","scale":{"domain":[22694,24755],"nice":false,"zero":false},"axis":null},"text":{"field":"p","type":"quantitative","format":",.2f"}}}
]
}
